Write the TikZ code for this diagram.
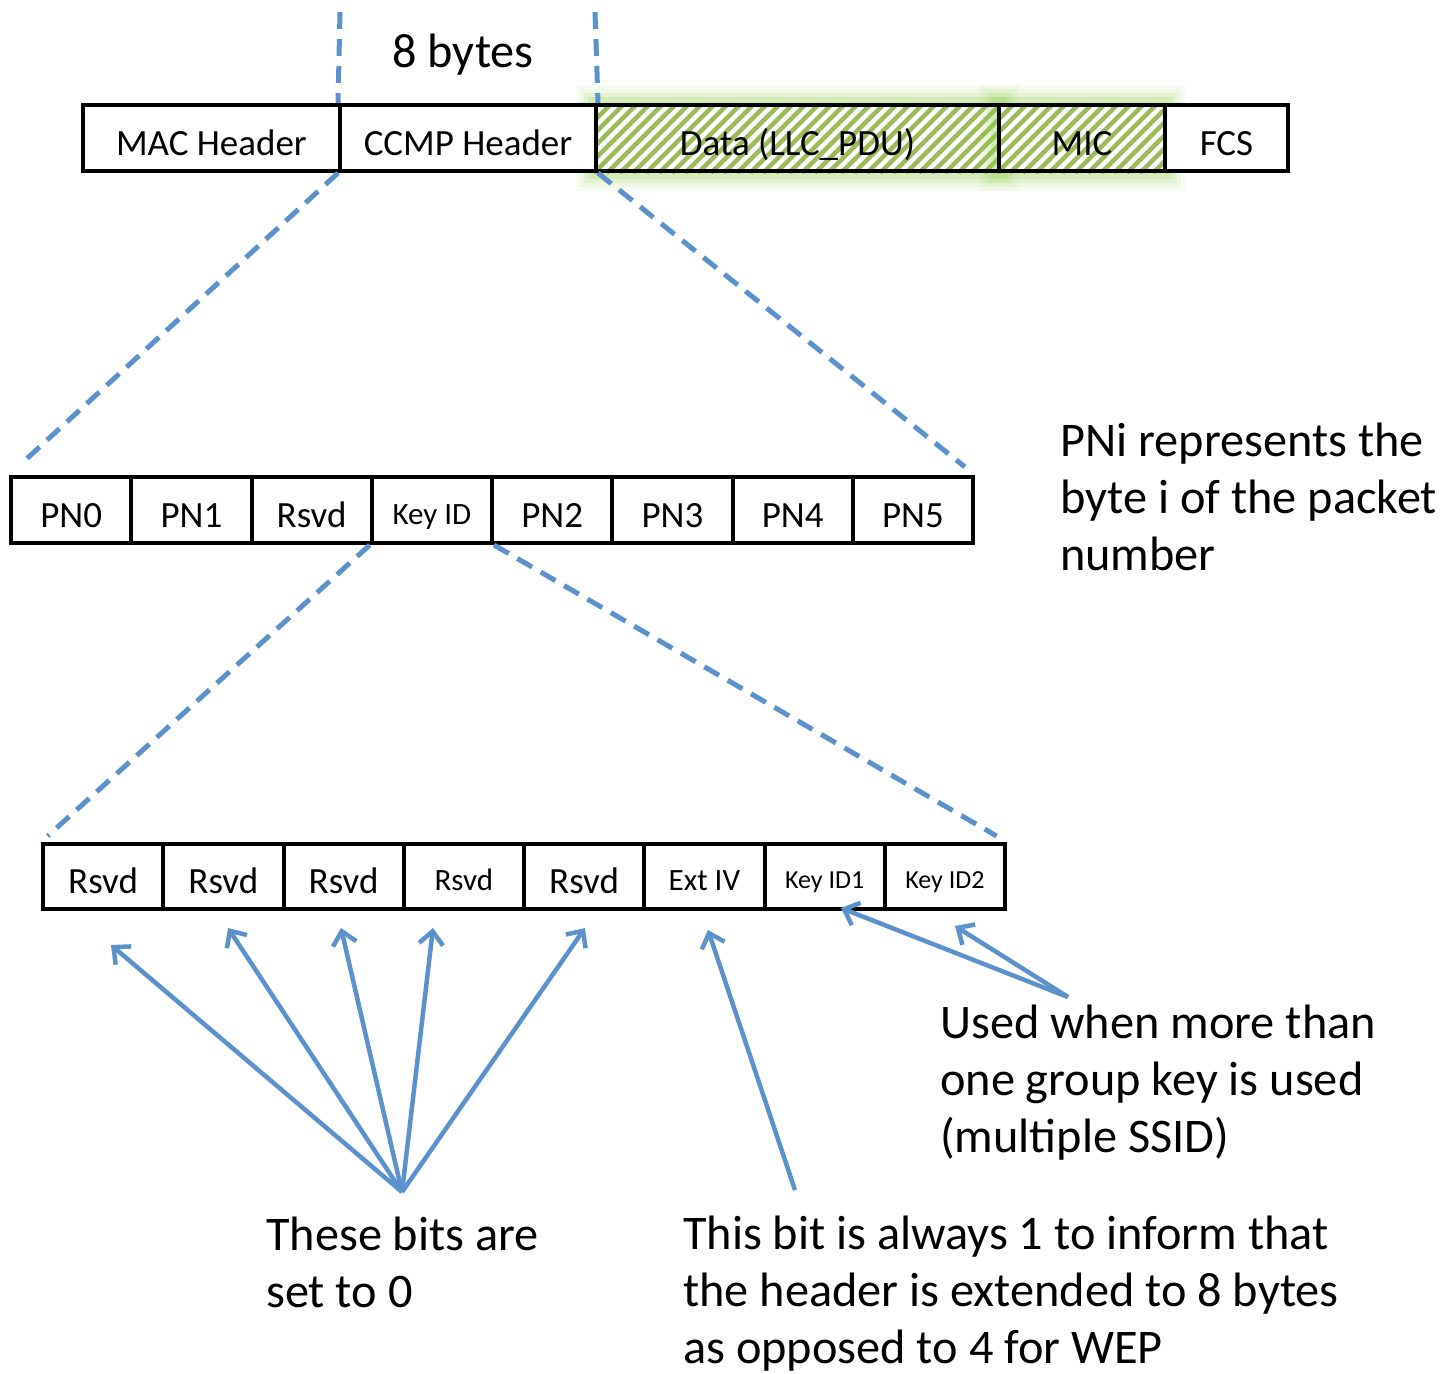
\documentclass[tikz,border=0pt]{standalone}
\usepackage{fontspec}
\setmainfont{Carlito}
\usetikzlibrary{arrows.meta,backgrounds}
\definecolor{linkblue}{RGB}{92,146,204}
\definecolor{hatchgreen}{RGB}{155,187,89}
\definecolor{glowgreen}{RGB}{146,208,80}

\begin{document}
\begin{tikzpicture}[x=1pt,y=-1pt,
  cell/.style={draw=black, fill=white, line width=4pt, inner sep=0pt, minimum height=66pt,
               text depth=0pt},
  fbig/.style={font=\fontsize{37}{44}\selectfont, text height=34pt},
  fmid/.style={font=\fontsize{31}{37}\selectfont, text height=28pt},
  fsml/.style={font=\fontsize{26}{31}\selectfont, text height=24pt},
  note/.style={font=\fontsize{48.3}{57}\selectfont, align=left, inner sep=0pt, anchor=base west},
  zoomline/.style={draw=linkblue, line width=5pt, dash pattern=on 17pt off 10pt},
  pointer/.style={draw=linkblue, line width=4.5pt, -{Straight Barb[length=13pt,width=24pt]}},
]
\useasboundingbox (0,0) rectangle (1449,1374);

% MPDU fields
\node[cell, fbig, minimum width=257pt] (mac)  at (211.5,138) {MAC Header};
\node[cell, fbig, minimum width=256pt] (ccmp) at (468,138)   {CCMP Header};
\node[cell, fbig, fill=none, minimum width=403pt] (data) at (797.5,138) {Data (LLC\_PDU)};
\node[cell, fbig, fill=none, minimum width=166pt] (mic)  at (1082,138)  {MIC};
\node[cell, fbig, minimum width=123pt] (fcs)  at (1226.5,138) {FCS};

% encrypted part: glow and hatching
\begin{scope}[on background layer]
  \foreach \n in {data,mic}{
    \foreach \w/\o in {36/0.07, 28/0.09, 20/0.12, 12/0.2}
      \draw[glowgreen, line width=\w pt, opacity=\o] (\n.north west) rectangle (\n.south east);
    \fill[white] (\n.north west) rectangle (\n.south east);
    \begin{scope}
      \clip (\n.north west) rectangle (\n.south east);
      \foreach \k in {-6,...,32}
        \draw[hatchgreen, line width=4.5pt] ([xshift=\k*13pt]\n.south west) -- ++(70,-70);
    \end{scope}
  }
\end{scope}

\node[font=\fontsize{48.3}{57}\selectfont, anchor=base, inner sep=0pt] (eight) at (463,67) {8 bytes};

% CCMP header bytes
\foreach \nm/\lab/\st [count=\i from 0] in
  {pn0/PN0/fbig, pn1/PN1/fbig, rsv/Rsvd/fbig, keyid/Key ID/fmid,
   pn2/PN2/fbig, pn3/PN3/fbig, pn4/PN4/fbig, pn5/PN5/fbig}
  \node[cell, \st, minimum width=120.25pt] (\nm) at ({11+120.25*(\i+0.5)}, 510) {\lab};

% Key ID byte bits
\foreach \nm/\lab/\st [count=\i from 0] in
  {b1/Rsvd/fbig, b2/Rsvd/fbig, b3/Rsvd/fbig, b4/Rsvd/fmid,
   b5/Rsvd/fbig, b6/Ext IV/fmid, b7/Key ID1/fsml, b8/Key ID2/fsml}
  \node[cell, \st, minimum width=120.25pt, minimum height=65pt] (\nm) at ({43+120.25*(\i+0.5)}, 876.5) {\lab};

% zoom guides
\coordinate (vl) at (340,12);
\coordinate (vr) at (595,12);
\draw[zoomline] (vl) -- (ccmp.north west);
\draw[zoomline] (vr) -- (ccmp.north east);
\draw[zoomline, shorten >=16pt] (ccmp.south west) -- (pn0.north west);
\draw[zoomline, shorten >=13pt] (ccmp.south east) -- (pn5.north east);
\draw[zoomline, shorten >=9pt]  (keyid.south west) -- (b1.north west);
\draw[zoomline, shorten >=12pt] (keyid.south east) -- (b8.north east);

% notes (anchored at the baseline of their last line)
\node[note] (pni) at (1060,570) {PNi represents the\\byte i of the packet\\number};
\node[note] (used) at (940,1152) {Used when more than\\one group key is used\\(multiple SSID)};
\node[note] (these) at (266,1307) {These bits are\\set to 0};
\node[note] (thisbit) at (683,1363) {This bit is always 1 to inform that\\the header is extended to 8 bytes\\as opposed to 4 for WEP};

% pointers
\coordinate (fan) at (402,1192);
\coordinate (r1) at (111,945);
\coordinate (r2) at (228,928);
\coordinate (r3) at (341,928);
\coordinate (r4) at (433,928);
\coordinate (r5) at (585,928);
\foreach \t in {r1,r2,r3,r4,r5}
  \draw[pointer] (fan) -- (\t);

\coordinate (extsrc) at (795,1190);
\coordinate (exttip) at (708,930);
\draw[pointer] (extsrc) -- (exttip);

\coordinate (keysrc) at (1068,997);
\coordinate (k1) at (841,908);
\coordinate (k2) at (955,926);
\draw[pointer] (keysrc) -- (k1);
\draw[pointer] (keysrc) -- (k2);
\end{tikzpicture}
\end{document}
